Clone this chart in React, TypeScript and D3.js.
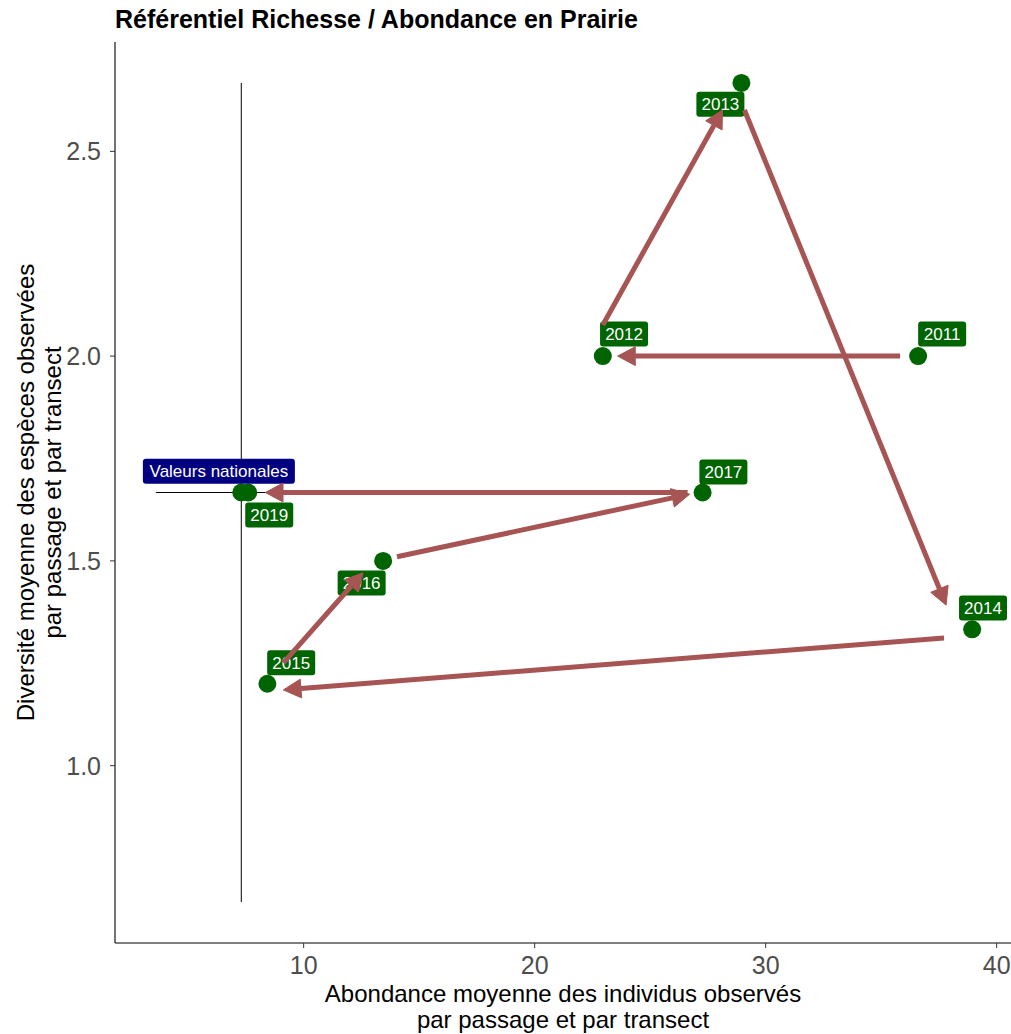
import React from "react";
import * as d3 from "d3";

const years = ["2011", "2012", "2013", "2014", "2015", "2016", "2017", "2019"];
const abundance = [36.6, 22.95, 28.95, 38.94, 8.43, 13.44, 27.27, 7.6];
const diversity = [2.0, 2.0, 2.667, 1.333, 1.2, 1.5, 1.667, 1.667];
const labelX = [37.64, 23.87, 28.04, 39.41, 9.46, 12.51, 28.17, 8.51];
const labelY = [2.054, 2.054, 2.615, 1.385, 1.251, 1.446, 1.717, 1.612];

const arrowFromX = [35.82, 22.95, 29.08, 37.72, 9.12, 14.04, 26.62];
const arrowFromY = [2.0, 2.076, 2.601, 1.312, 1.251, 1.51, 1.667];
const arrowToX = [23.59, 28.13, 37.81, 9.12, 12.57, 26.71, 8.34];
const arrowToY = [2.0, 2.601, 1.392, 1.185, 1.471, 1.663, 1.667];

const nationalLabel = "Valeurs nationales";
const nationalX = 7.3;
const nationalY = 1.667;
const nationalLabelX = 6.33;
const nationalLabelY = 1.719;
const crossXMin = 3.6;
const crossXMax = 11.0;
const crossYMin = 0.667;
const crossYMax = 2.667;

const xTicks = [10, 20, 30, 40];
const yTicks = [1.0, 1.5, 2.0, 2.5];

const W = 1011;
const H = 1034;
const panel = { left: 115, right: 1013, top: 42, bottom: 943 };

const arrowColor = "#A65454";
const pointColor = "#006400";
const font = "Arial, 'Liberation Sans', sans-serif";

function expand(lo: number, hi: number): [number, number] {
  const d = (hi - lo) * 0.05;
  return [lo - d, hi + d];
}

export default function App() {
  const xs = [...abundance, crossXMin, crossXMax];
  const ys = [...diversity, crossYMin, crossYMax];
  const x = d3
    .scaleLinear()
    .domain(expand(d3.min(xs)!, d3.max(xs)!))
    .range([panel.left, panel.right]);
  const y = d3
    .scaleLinear()
    .domain(expand(d3.min(ys)!, d3.max(ys)!))
    .range([panel.bottom, panel.top]);

  const headLen = 20;
  const headAngle = (28 * Math.PI) / 180;

  const arrows = arrowFromX.map((_, i) => {
    const x1 = x(arrowFromX[i]);
    const y1 = y(arrowFromY[i]);
    const x2 = x(arrowToX[i]);
    const y2 = y(arrowToY[i]);
    const ang = Math.atan2(y2 - y1, x2 - x1);
    const back = headLen * Math.cos(headAngle);
    const lx = x2 - back * Math.cos(ang);
    const ly = y2 - back * Math.sin(ang);
    const p1 = [x2 - headLen * Math.cos(ang - headAngle), y2 - headLen * Math.sin(ang - headAngle)];
    const p2 = [x2 - headLen * Math.cos(ang + headAngle), y2 - headLen * Math.sin(ang + headAngle)];
    return { x1, y1, lx, ly, head: `M${x2},${y2}L${p1[0]},${p1[1]}L${p2[0]},${p2[1]}Z` };
  });

  const labelFont = 17;

  const labelBox = (cx: number, cy: number, text: string, fill: string, w: number, key: string) => (
    <g key={key}>
      <rect x={cx - w / 2} y={cy - 12.5} width={w} height={25} rx={3} ry={3} fill={fill} />
      <text
        x={cx}
        y={cy}
        dy="0.36em"
        textAnchor="middle"
        fontSize={labelFont}
        fontFamily={font}
        fill="#FFFFFF"
      >
        {text}
      </text>
    </g>
  );

  const cy = (panel.top + panel.bottom) / 2;
  const cxp = (panel.left + 1011) / 2;

  return (
    <div style={{ position: "absolute", left: 0, top: 0 }}>
      <svg width={W} height={H} style={{ display: "block", background: "#fff" }}>
        <text x={panel.left} y={28} fontSize={25} fontWeight="bold" fontFamily={font} fill="#000">
          Référentiel Richesse / Abondance en Prairie
        </text>

        {/* crosshair */}
        <line x1={x(nationalX)} x2={x(nationalX)} y1={y(crossYMin)} y2={y(crossYMax)} stroke="#000" strokeWidth={1} />
        <line x1={x(crossXMin)} x2={x(crossXMax)} y1={y(nationalY)} y2={y(nationalY)} stroke="#000" strokeWidth={1} />

        {/* points */}
        <circle cx={x(nationalX)} cy={y(nationalY)} r={9} fill={pointColor} />
        {years.map((yr, i) => (
          <circle key={yr} cx={x(abundance[i])} cy={y(diversity[i])} r={9} fill={pointColor} />
        ))}

        {/* labels */}
        {labelBox(x(nationalLabelX), y(nationalLabelY), nationalLabel, "#000080", 152, "nat")}
        {years.map((yr, i) => labelBox(x(labelX[i]), y(labelY[i]), yr, pointColor, 48, "l" + yr))}

        {/* arrows */}
        {arrows.map((a, i) => (
          <g key={"a" + i}>
            <line x1={a.x1} y1={a.y1} x2={a.lx} y2={a.ly} stroke={arrowColor} strokeWidth={5} />
            <path d={a.head} fill={arrowColor} stroke={arrowColor} strokeWidth={1} strokeLinejoin="miter" />
          </g>
        ))}

        {/* axes */}
        <line x1={panel.left} x2={panel.right} y1={panel.bottom} y2={panel.bottom} stroke="#000" strokeWidth={1.1} />
        <line x1={panel.left} x2={panel.left} y1={panel.top} y2={panel.bottom} stroke="#000" strokeWidth={1.1} />
        {xTicks.map((t) => (
          <g key={"xt" + t}>
            <line x1={x(t)} x2={x(t)} y1={panel.bottom} y2={panel.bottom + 5} stroke="#333" />
            <text x={x(t)} y={974} textAnchor="middle" fontSize={25} fontFamily={font} fill="#4D4D4D">
              {t}
            </text>
          </g>
        ))}
        {yTicks.map((t) => (
          <g key={"yt" + t}>
            <line x1={panel.left - 5} x2={panel.left} y1={y(t)} y2={y(t)} stroke="#333" />
            <text x={101} y={y(t)} dy="0.36em" textAnchor="end" fontSize={25} fontFamily={font} fill="#4D4D4D">
              {d3.format(".1f")(t)}
            </text>
          </g>
        ))}

        <text x={cxp} y={1002} textAnchor="middle" fontSize={24} fontFamily={font} fill="#000">
          Abondance moyenne des individus observés
        </text>
        <text x={cxp} y={1028} textAnchor="middle" fontSize={24} fontFamily={font} fill="#000">
          par passage et par transect
        </text>

        <g transform={`translate(34, ${cy}) rotate(-90)`}>
          <text x={0} y={0} textAnchor="middle" fontSize={24} fontFamily={font} fill="#000">
            Diversité moyenne des espèces observées
          </text>
        </g>
        <g transform={`translate(61, ${cy}) rotate(-90)`}>
          <text x={0} y={0} textAnchor="middle" fontSize={24} fontFamily={font} fill="#000">
            par passage et par transect
          </text>
        </g>
      </svg>
    </div>
  );
}
